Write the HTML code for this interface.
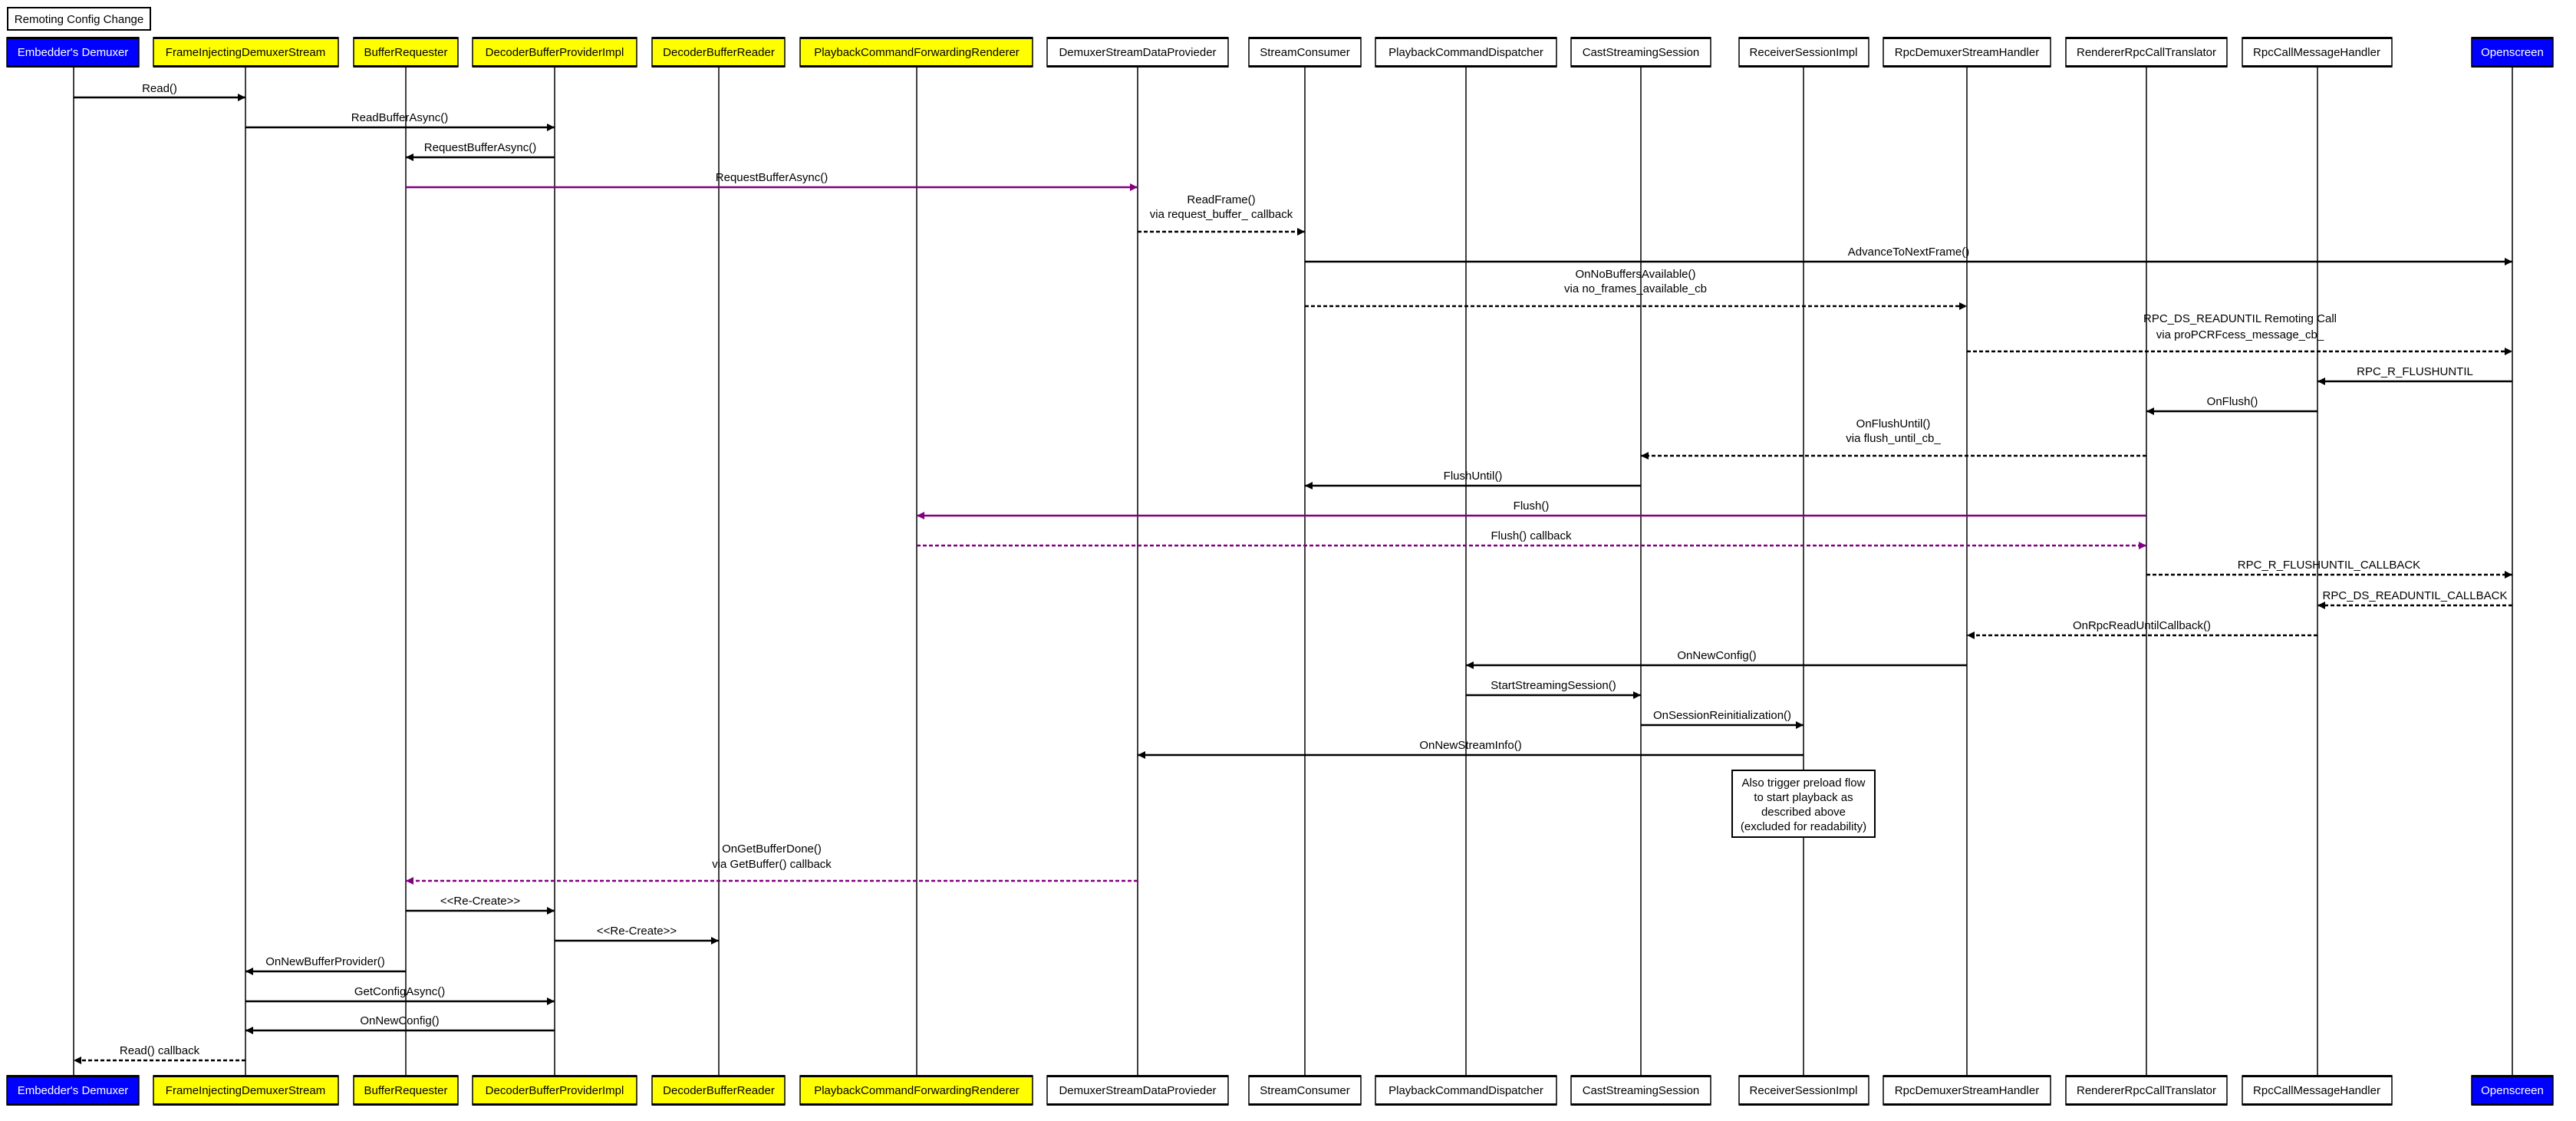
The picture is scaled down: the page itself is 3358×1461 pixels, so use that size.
<!DOCTYPE html>
<html><head><meta charset="utf-8"><style>
html,body{margin:0;padding:0;background:#fff;}
svg{display:block;}
text{font-family:"Liberation Sans",sans-serif;font-size:15px;fill:#000;}
</style></head><body>
<svg width="3358" height="1461" viewBox="0 0 3358 1461" xmlns="http://www.w3.org/2000/svg">
<defs>
<marker id="a" markerUnits="userSpaceOnUse" markerWidth="12" markerHeight="12" refX="10" refY="6" orient="auto"><path d="M0,1 L10,6 L0,11 z" fill="#000"/></marker>
<marker id="p" markerUnits="userSpaceOnUse" markerWidth="12" markerHeight="12" refX="10" refY="6" orient="auto"><path d="M0,1 L10,6 L0,11 z" fill="#800080"/></marker>
</defs>
<rect x="10" y="10" width="186" height="29" fill="#fff" stroke="#000" stroke-width="2"/>
<text x="103" y="30" text-anchor="middle">Remoting Config Change</text>

<g stroke="#000" stroke-width="1.5">
<line x1="96" y1="88" x2="96" y2="1402"/><line x1="320" y1="88" x2="320" y2="1402"/>
<line x1="529" y1="88" x2="529" y2="1402"/><line x1="723" y1="88" x2="723" y2="1402"/>
<line x1="937" y1="88" x2="937" y2="1402"/><line x1="1195" y1="88" x2="1195" y2="1402"/>
<line x1="1483" y1="88" x2="1483" y2="1402"/><line x1="1701" y1="88" x2="1701" y2="1402"/>
<line x1="1911" y1="88" x2="1911" y2="1402"/><line x1="2139" y1="88" x2="2139" y2="1402"/>
<line x1="2351" y1="88" x2="2351" y2="1402"/><line x1="2564" y1="88" x2="2564" y2="1402"/>
<line x1="2798" y1="88" x2="2798" y2="1402"/><line x1="3021" y1="88" x2="3021" y2="1402"/>
<line x1="3275" y1="88" x2="3275" y2="1402"/>
</g>

<g id="hdr">
<g stroke="#000" stroke-width="1.5">
<rect x="9" y="49" width="172" height="38" fill="#0000ff"/>
<rect x="200" y="49" width="241" height="38" fill="#ffff00"/>
<rect x="461" y="49" width="136" height="38" fill="#ffff00"/>
<rect x="616" y="49" width="214" height="38" fill="#ffff00"/>
<rect x="850" y="49" width="173" height="38" fill="#ffff00"/>
<rect x="1043" y="49" width="303" height="38" fill="#ffff00"/>
<rect x="1365" y="49" width="236" height="38" fill="#fff"/>
<rect x="1628" y="49" width="146" height="38" fill="#fff"/>
<rect x="1793" y="49" width="236" height="38" fill="#fff"/>
<rect x="2048" y="49" width="182" height="38" fill="#fff"/>
<rect x="2267" y="49" width="169" height="38" fill="#fff"/>
<rect x="2455" y="49" width="218" height="38" fill="#fff"/>
<rect x="2693" y="49" width="210" height="38" fill="#fff"/>
<rect x="2923" y="49" width="195" height="38" fill="#fff"/>
<rect x="3222" y="49" width="106" height="38" fill="#0000ff"/>
</g>
<path stroke="#000" stroke-width="3" d="M9,49.5H181M200,49.5H441M461,49.5H597M616,49.5H830M850,49.5H1023M1043,49.5H1346M1365,49.5H1601M1628,49.5H1774M1793,49.5H2029M2048,49.5H2230M2267,49.5H2436M2455,49.5H2673M2693,49.5H2903M2923,49.5H3118M3222,49.5H3328M9,86.5H181M200,86.5H441M461,86.5H597M616,86.5H830M850,86.5H1023M1043,86.5H1346M1365,86.5H1601M1628,86.5H1774M1793,86.5H2029M2048,86.5H2230M2267,86.5H2436M2455,86.5H2673M2693,86.5H2903M2923,86.5H3118M3222,86.5H3328"/>
<text x="95" y="73" text-anchor="middle" style="fill:#fff">Embedder's Demuxer</text>
<text x="320" y="73" text-anchor="middle">FrameInjectingDemuxerStream</text>
<text x="529" y="73" text-anchor="middle">BufferRequester</text>
<text x="723" y="73" text-anchor="middle">DecoderBufferProviderImpl</text>
<text x="937" y="73" text-anchor="middle">DecoderBufferReader</text>
<text x="1195" y="73" text-anchor="middle">PlaybackCommandForwardingRenderer</text>
<text x="1483" y="73" text-anchor="middle">DemuxerStreamDataProvieder</text>
<text x="1701" y="73" text-anchor="middle">StreamConsumer</text>
<text x="1911" y="73" text-anchor="middle">PlaybackCommandDispatcher</text>
<text x="2139" y="73" text-anchor="middle">CastStreamingSession</text>
<text x="2351" y="73" text-anchor="middle">ReceiverSessionImpl</text>
<text x="2564" y="73" text-anchor="middle">RpcDemuxerStreamHandler</text>
<text x="2798" y="73" text-anchor="middle">RendererRpcCallTranslator</text>
<text x="3020" y="73" text-anchor="middle">RpcCallMessageHandler</text>
<text x="3275" y="73" text-anchor="middle" style="fill:#fff">Openscreen</text>
</g>
<use href="#hdr" y="1353"/>

<g stroke-width="2.5" fill="none">
<line x1="96" y1="127" x2="320" y2="127" stroke="#000" marker-end="url(#a)"/>
<line x1="320" y1="166" x2="723" y2="166" stroke="#000" marker-end="url(#a)"/>
<line x1="723" y1="205" x2="529" y2="205" stroke="#000" marker-end="url(#a)"/>
<line x1="529" y1="244" x2="1483" y2="244" stroke="#800080" marker-end="url(#p)"/>
<line x1="1483" y1="302" x2="1701" y2="302" stroke="#000" stroke-dasharray="5,3" marker-end="url(#a)"/>
<line x1="1701" y1="341" x2="3275" y2="341" stroke="#000" marker-end="url(#a)"/>
<line x1="1701" y1="399" x2="2564" y2="399" stroke="#000" stroke-dasharray="5,3" marker-end="url(#a)"/>
<line x1="2564" y1="458" x2="3275" y2="458" stroke="#000" stroke-dasharray="5,3" marker-end="url(#a)"/>
<line x1="3275" y1="497" x2="3021" y2="497" stroke="#000" marker-end="url(#a)"/>
<line x1="3021" y1="536" x2="2798" y2="536" stroke="#000" marker-end="url(#a)"/>
<line x1="2798" y1="594" x2="2139" y2="594" stroke="#000" stroke-dasharray="5,3" marker-end="url(#a)"/>
<line x1="2139" y1="633" x2="1701" y2="633" stroke="#000" marker-end="url(#a)"/>
<line x1="2798" y1="672" x2="1195" y2="672" stroke="#800080" marker-end="url(#p)"/>
<line x1="1195" y1="711" x2="2798" y2="711" stroke="#800080" stroke-dasharray="5,3" marker-end="url(#p)"/>
<line x1="2798" y1="749" x2="3275" y2="749" stroke="#000" stroke-dasharray="5,3" marker-end="url(#a)"/>
<line x1="3275" y1="789" x2="3021" y2="789" stroke="#000" stroke-dasharray="5,3" marker-end="url(#a)"/>
<line x1="3021" y1="828" x2="2564" y2="828" stroke="#000" stroke-dasharray="5,3" marker-end="url(#a)"/>
<line x1="2564" y1="867" x2="1911" y2="867" stroke="#000" marker-end="url(#a)"/>
<line x1="1911" y1="906" x2="2139" y2="906" stroke="#000" marker-end="url(#a)"/>
<line x1="2139" y1="945" x2="2351" y2="945" stroke="#000" marker-end="url(#a)"/>
<line x1="2351" y1="984" x2="1483" y2="984" stroke="#000" marker-end="url(#a)"/>
<line x1="1483" y1="1148" x2="529" y2="1148" stroke="#800080" stroke-dasharray="5,3" marker-end="url(#p)"/>
<line x1="529" y1="1187" x2="723" y2="1187" stroke="#000" marker-end="url(#a)"/>
<line x1="723" y1="1226" x2="937" y2="1226" stroke="#000" marker-end="url(#a)"/>
<line x1="529" y1="1266" x2="320" y2="1266" stroke="#000" marker-end="url(#a)"/>
<line x1="320" y1="1305" x2="723" y2="1305" stroke="#000" marker-end="url(#a)"/>
<line x1="723" y1="1343" x2="320" y2="1343" stroke="#000" marker-end="url(#a)"/>
<line x1="320" y1="1382" x2="96" y2="1382" stroke="#000" stroke-dasharray="5,3" marker-end="url(#a)"/>
</g>

<g text-anchor="middle">
<text x="208" y="120">Read()</text>
<text x="521" y="158">ReadBufferAsync()</text>
<text x="626" y="197">RequestBufferAsync()</text>
<text x="1006" y="236">RequestBufferAsync()</text>
<text x="1592" y="265">ReadFrame()</text>
<text x="1592" y="284">via request_buffer_ callback</text>
<text x="2488" y="333">AdvanceToNextFrame()</text>
<text x="2132" y="362">OnNoBuffersAvailable()</text>
<text x="2132" y="381">via no_frames_available_cb</text>
<text x="2920" y="420">RPC_DS_READUNTIL Remoting Call</text>
<text x="2920" y="441">via proPCRFcess_message_cb_</text>
<text x="3148" y="489">RPC_R_FLUSHUNTIL</text>
<text x="2910" y="528">OnFlush()</text>
<text x="2468" y="557">OnFlushUntil()</text>
<text x="2468" y="576">via flush_until_cb_</text>
<text x="1920" y="625">FlushUntil()</text>
<text x="1996" y="664">Flush()</text>
<text x="1996" y="703">Flush() callback</text>
<text x="3036" y="741">RPC_R_FLUSHUNTIL_CALLBACK</text>
<text x="3148" y="781">RPC_DS_READUNTIL_CALLBACK</text>
<text x="2792" y="820">OnRpcReadUntilCallback()</text>
<text x="2238" y="859">OnNewConfig()</text>
<text x="2025" y="898">StartStreamingSession()</text>
<text x="2245" y="937">OnSessionReinitialization()</text>
<text x="1917" y="976">OnNewStreamInfo()</text>
<text x="1006" y="1111">OnGetBufferDone()</text>
<text x="1006" y="1131">via GetBuffer() callback</text>
<text x="626" y="1179">&lt;&lt;Re-Create&gt;&gt;</text>
<text x="830" y="1218">&lt;&lt;Re-Create&gt;&gt;</text>
<text x="424" y="1258">OnNewBufferProvider()</text>
<text x="521" y="1297">GetConfigAsync()</text>
<text x="521" y="1335">OnNewConfig()</text>
<text x="208" y="1374">Read() callback</text>
</g>

<rect x="2258" y="1004" width="186" height="87" fill="#fff" stroke="#000" stroke-width="2"/>
<g text-anchor="middle">
<text x="2351" y="1025">Also trigger preload flow</text>
<text x="2351" y="1044">to start playback as</text>
<text x="2351" y="1063">described above</text>
<text x="2351" y="1082">(excluded for readability)</text>
</g>
</svg>
</body></html>
